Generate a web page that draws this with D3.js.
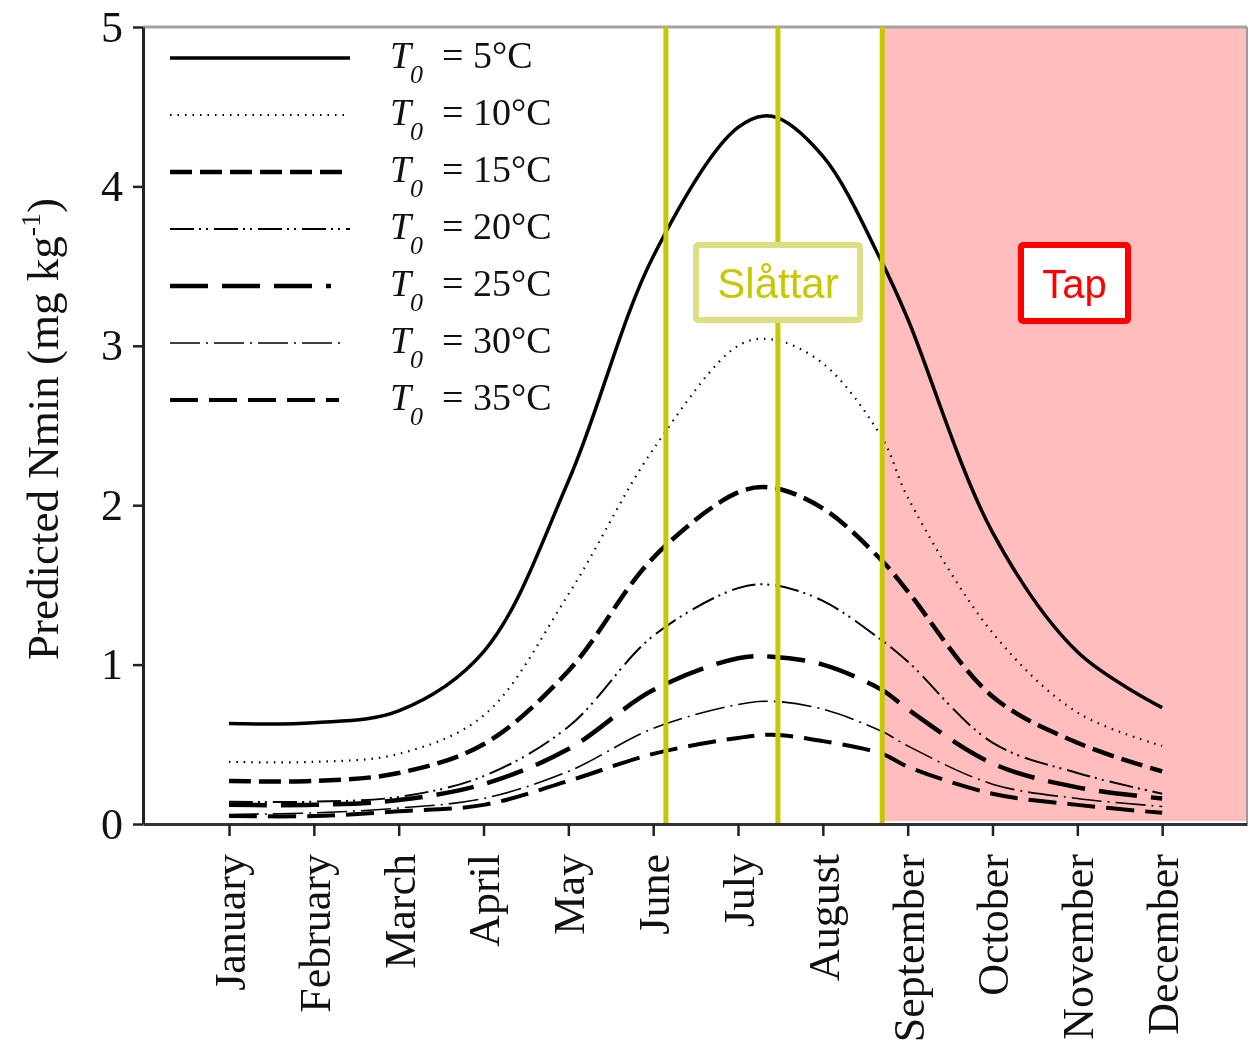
<!DOCTYPE html>
<html>
<head>
<meta charset="utf-8">
<script src="https://cdn.jsdelivr.net/npm/d3@7"></script>
<style>
  body { margin: 0; background: #fff; }
  svg text { font-family: "Liberation Serif", "Times New Roman", serif; }
</style>
</head>
<body>
<div id="plot"></div>
<script>
// month names on the x axis
const months = ["January", "February", "March", "April", "May", "June",
  "July", "August", "September", "October", "November", "December"];

// where the curves were read (month index, 0 = January)
const samplePos = [0, 1, 2, 3, 4, 5, 6, 6.4, 7, 7.7, 8, 9, 10, 11];

// predicted Nmin (mg/kg) for each T0
const t5  = [0.63, 0.635, 0.71, 1.08, 2.15, 3.56, 4.37, 4.44, 4.19, 3.52, 3.17, 1.83, 1.08, 0.73];
const t10 = [0.39, 0.39, 0.44, 0.68, 1.44, 2.35, 3.00, 3.04, 2.89, 2.42, 2.05, 1.20, 0.70, 0.49];
const t15 = [0.27, 0.27, 0.32, 0.50, 0.96, 1.67, 2.08, 2.11, 1.98, 1.65, 1.46, 0.80, 0.51, 0.33];
const t20 = [0.14, 0.14, 0.17, 0.30, 0.61, 1.18, 1.48, 1.50, 1.40, 1.15, 1.02, 0.51, 0.32, 0.19];
const t25 = [0.12, 0.12, 0.15, 0.25, 0.47, 0.84, 1.04, 1.05, 1.00, 0.84, 0.72, 0.38, 0.23, 0.16];
const t30 = [0.06, 0.07, 0.10, 0.16, 0.33, 0.60, 0.75, 0.77, 0.72, 0.58, 0.49, 0.25, 0.16, 0.11];
const t35 = [0.05, 0.05, 0.08, 0.12, 0.27, 0.44, 0.54, 0.56, 0.52, 0.44, 0.36, 0.19, 0.12, 0.07];

const seriesNames = ["5", "10", "15", "20", "25", "30", "35"];
const seriesValues = [t5, t10, t15, t20, t25, t30, t35];

// harvest (Slåttar) lines, month index
const cutLines = [5.15, 6.47, 7.70];
const yTicks = [0, 1, 2, 3, 4, 5];

// line styles per series
const styles = [
  {w: 3.5, dash: null},
  {w: 2.2, dash: "1.5,6"},
  {w: 4.5, dash: "22,8"},
  {w: 2,   dash: "24,5,2,5,2,6"},
  {w: 4.5, dash: "38,14"},
  {w: 1.6, dash: "30,6,2,6"},
  {w: 4,   dash: "28,11"}
];
const legendEnd = [350, 348, 350, 350, 331, 346, 339];

const W = 1251, H = 1051;
const svg = d3.select("#plot").append("svg")
  .attr("width", W).attr("height", H);

svg.append("rect").attr("width", W).attr("height", H).attr("fill", "#fff");

const x = d3.scaleLinear().domain([-1.014, 12.0]).range([143, 1247]);
const y = d3.scaleLinear().domain([0, 5]).range([824, 27]);

const line = d3.line()
  .x(d => x(d[0]))
  .y(d => y(d[1]))
  .curve(d3.curveCatmullRom.alpha(0.5));

// curves
seriesValues.forEach((vals, i) => {
  svg.append("path")
    .datum(samplePos.map((p, k) => [p, vals[k]]))
    .attr("d", line)
    .attr("fill", "none")
    .attr("stroke", "#000")
    .attr("stroke-width", styles[i].w)
    .attr("stroke-dasharray", styles[i].dash);
});

// pink "Tap" region
svg.append("rect")
  .attr("x", x(cutLines[2]))
  .attr("y", y(5))
  .attr("width", x.range()[1] - x(cutLines[2]))
  .attr("height", y(0) - y(5) - 3)
  .attr("fill", "#ffbdbd")
  .style("mix-blend-mode", "multiply");

// frame top and right
svg.append("line")
  .attr("x1", x.range()[0]).attr("x2", x.range()[1])
  .attr("y1", y(5)).attr("y2", y(5))
  .attr("stroke", "#a3a3a3").attr("stroke-width", 3);
svg.append("line")
  .attr("x1", x.range()[1]).attr("x2", x.range()[1])
  .attr("y1", y(5)).attr("y2", y(0))
  .attr("stroke", "#9a9a9a").attr("stroke-width", 2);

// yellow harvest lines
svg.selectAll(".cut")
  .data(cutLines)
  .join("line")
    .attr("class", "cut")
    .attr("x1", d => x(d)).attr("x2", d => x(d))
    .attr("y1", y(5)).attr("y2", y(0))
    .attr("stroke", "#c8c800")
    .attr("stroke-width", 5);

// axes
const xAxis = svg.append("g")
  .attr("transform", `translate(0,${y(0)})`)
  .call(d3.axisBottom(x)
    .tickValues(d3.range(12))
    .tickFormat(i => months[i])
    .tickSize(12)
    .tickSizeOuter(0));
xAxis.select(".domain").attr("stroke", "#333").attr("stroke-width", 3);
xAxis.selectAll(".tick line").attr("stroke", "#222").attr("stroke-width", 2.5);
xAxis.selectAll(".tick text")
  .attr("font-size", 44)
  .attr("font-family", "Liberation Serif")
  .attr("fill", "#111")
  .attr("transform", "rotate(-90)")
  .attr("text-anchor", "end")
  .attr("x", -30)
  .attr("y", 0)
  .attr("dy", "0.35em");

const yAxis = svg.append("g")
  .attr("transform", `translate(${x.range()[0]},0)`)
  .call(d3.axisLeft(y)
    .tickValues(yTicks)
    .tickFormat(d3.format("d"))
    .tickSize(10)
    .tickPadding(10)
    .tickSizeOuter(0));
yAxis.select(".domain").attr("stroke", "#222").attr("stroke-width", 3);
yAxis.selectAll(".tick line").attr("stroke", "#222").attr("stroke-width", 2.5);
yAxis.selectAll(".tick text")
  .attr("font-size", 44)
  .attr("font-family", "Liberation Serif")
  .attr("fill", "#111");

// y label
const ylab = svg.append("text")
  .attr("transform", "translate(58,429) rotate(-90)")
  .attr("text-anchor", "middle")
  .attr("font-size", 45)
  .attr("fill", "#111");
ylab.append("tspan").text("Predicted Nmin (mg kg");
ylab.append("tspan").attr("font-size", 28).attr("dy", -18).text("-1");
ylab.append("tspan").attr("dy", 18).text(")");

// legend
const leg = svg.selectAll(".leg")
  .data(seriesNames)
  .join("g")
    .attr("class", "leg")
    .attr("transform", (d, i) => `translate(0,${58 + i * 57})`);

leg.append("line")
  .attr("x1", 170)
  .attr("x2", (d, i) => legendEnd[i])
  .attr("stroke", "#000")
  .attr("stroke-width", (d, i) => styles[i].w)
  .attr("stroke-dasharray", (d, i) => styles[i].dash);

leg.append("text")
  .attr("x", 390).attr("y", 10)
  .attr("font-size", 38).attr("font-style", "italic")
  .attr("fill", "#111")
  .text("T");
leg.append("text")
  .attr("x", 410).attr("y", 25)
  .attr("font-size", 26).attr("font-style", "italic")
  .attr("fill", "#111")
  .text("0");
leg.append("text")
  .attr("x", 442).attr("y", 10)
  .attr("font-size", 38)
  .attr("fill", "#111")
  .text(d => `= ${d}°C`);

// annotation boxes
function labelBox(x0, y0, w, h, stroke, sw, color, txt, fs) {
  svg.append("rect")
    .attr("x", x0 + sw / 2).attr("y", y0 + sw / 2)
    .attr("width", w - sw).attr("height", h - sw)
    .attr("rx", 2)
    .attr("fill", "#fff")
    .attr("stroke", stroke)
    .attr("stroke-width", sw);
  svg.append("text")
    .attr("x", x0 + w / 2).attr("y", y0 + 56)
    .attr("text-anchor", "middle")
    .style("font-family", "'Liberation Sans', Arial, sans-serif")
    .attr("font-size", fs)
    .attr("fill", color)
    .text(txt);
}
labelBox(693, 242, 170, 81, "#dede82", 6, "#c8c800", "Slåttar", 42);
labelBox(1018, 242, 113, 82, "#ff0000", 6, "#ff0000", "Tap", 40);
</script>
</body>
</html>
